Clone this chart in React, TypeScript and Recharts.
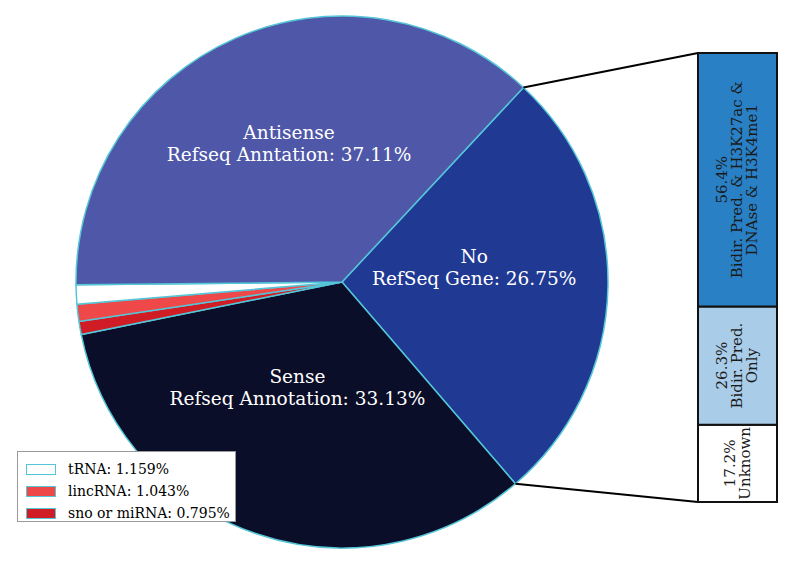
import React from "react";
import { PieChart, Pie, Cell, Legend, BarChart, Bar, XAxis, YAxis, LabelList } from "recharts";

// pie: share of transcripts by annotation class (clockwise from the break-out slice)
const classes = ["No RefSeq Gene", "Sense", "sno or miRNA", "lincRNA", "tRNA", "Antisense"];
const shares = [26.75, 33.13, 0.795, 1.043, 1.159, 37.11];
const sliceColors = ["#203a94", "#0b0e28", "#d01c24", "#ee4848", "#ffffff", "#4f58a8"];
const sliceLabels = [
  ["No", "RefSeq Gene: 26.75%"],
  ["Sense", "Refseq Annotation: 33.13%"],
  [],
  [],
  [],
  ["Antisense", "Refseq Anntation: 37.11%"],
];
const legendOrder = [4, 3, 2];

// break-out bar for the "No RefSeq Gene" slice (bottom to top)
const breakdownKeys = ["unknown", "predOnly", "allMarks"];
const breakdownValues = [17.2, 26.3, 56.4];
const breakdownColors = ["#ffffff", "#a9cde9", "#2a80c4"];
const breakdownLabels = [
  ["17.2%", "Unknown"],
  ["26.3%", "Bidir. Pred.", "Only"],
  ["56.4%", "Bidir. Pred. & H3K27ac &", "DNAse & H3K4me1"],
];

const W = 800;
const H = 564;
const CX = 342;
const CY = 282;
const R = 266;
const START = 47;
const BAR_LEFT = 698;
const BAR_RIGHT = 777;
const BAR_TOP = 53;
const BAR_BOTTOM = 502;
const EDGE = "#55c5d8";
const FONT = "DejaVu Serif";

const pieData = classes.map((name, i) => ({ name, value: shares[i] }));
const barData = [
  breakdownKeys.reduce((row: any, k, i) => ({ ...row, [k]: breakdownValues[i] }), { name: "No RefSeq Gene" }),
];

// label placement: [radius fraction, angle shift in degrees]
const labelPlace: Record<number, [number, number]> = { 0: [0.5, 7.6], 1: [0.43, -4], 5: [0.56, -3] };

const renderPieLabel = (props: any) => {
  const { cx, cy, midAngle, outerRadius, index } = props;
  const lines = sliceLabels[index];
  if (!lines || !lines.length) return null;
  const [f, shift] = labelPlace[index];
  const a = ((midAngle + shift) * Math.PI) / 180;
  const x = cx + outerRadius * f * Math.cos(a);
  const y = cy - outerRadius * f * Math.sin(a);
  const lh = 22;
  return (
    <text x={x} y={y} fill="#ffffff" fontFamily={FONT} fontSize={18.5} textAnchor="middle" dominantBaseline="central">
      {lines.map((l, i) => (
        <tspan key={i} x={x} dy={i === 0 ? -((lines.length - 1) * lh) / 2 : lh}>
          {l}
        </tspan>
      ))}
    </text>
  );
};

const renderLegend = () => (
  <div
    style={{
      border: "1px solid #999",
      background: "#fff",
      width: 219,
      height: 71,
      boxSizing: "border-box",
      padding: "6px 0 0 8px",
      fontFamily: FONT,
      fontSize: 14,
    }}
  >
    {legendOrder.map((i) => (
      <div key={i} style={{ display: "flex", alignItems: "center", height: 22 }}>
        <span
          style={{
            display: "inline-block",
            width: 28,
            height: 9,
            background: sliceColors[i],
            border: `1.5px solid ${EDGE}`,
            marginRight: 12,
          }}
        />
        <span>{`${classes[i]}: ${shares[i]}%`}</span>
      </div>
    ))}
  </div>
);

const makeBarLabel = (lines: string[]) => (props: any) => {
  const { x, y, width, height } = props;
  const cx = x + width / 2;
  const cy = y + height / 2;
  const lh = 15;
  return (
    <text
      x={cx}
      y={cy}
      fill="#1a1a1a"
      fontFamily={FONT}
      fontSize={15}
      textAnchor="middle"
      dominantBaseline="central"
      transform={`rotate(-90, ${cx}, ${cy})`}
    >
      {lines.map((l, i) => (
        <tspan key={i} x={cx} dy={i === 0 ? -((lines.length - 1) * lh) / 2 : lh}>
          {l}
        </tspan>
      ))}
    </text>
  );
};

const polar = (deg: number) => {
  const a = (deg * Math.PI) / 180;
  return [CX + R * Math.cos(a), CY - R * Math.sin(a)];
};

export default function App() {
  const [tx, ty] = polar(START);
  const [bx, by] = polar(START - shares[0] * 3.6);
  return (
    <div style={{ position: "absolute", left: 0, top: 0, width: W, height: H, background: "#fff" }}>
      <div style={{ position: "absolute", left: 0, top: 0 }}>
        <PieChart width={W} height={H} margin={{ top: 0, right: 0, bottom: 0, left: 0 }}>
          <Pie
            data={pieData}
            dataKey="value"
            nameKey="name"
            cx={CX}
            cy={CY}
            outerRadius={R}
            startAngle={START}
            endAngle={START - 360}
            label={renderPieLabel}
            labelLine={false}
            isAnimationActive={false}
          >
            {pieData.map((d, i) => (
              <Cell key={d.name} fill={sliceColors[i]} stroke={EDGE} strokeWidth={1.5} />
            ))}
          </Pie>
          <Legend
            content={renderLegend}
            wrapperStyle={{ position: "absolute", left: 17, top: 451, width: 219, height: 71, bottom: "auto" }}
          />
        </PieChart>
      </div>
      <svg style={{ position: "absolute", left: 0, top: 0 }} width={W} height={H}>
        <line x1={tx} y1={ty} x2={BAR_LEFT} y2={BAR_TOP} stroke="#000" strokeWidth={2} />
        <line x1={bx} y1={by} x2={BAR_LEFT} y2={BAR_BOTTOM} stroke="#000" strokeWidth={2} />
      </svg>
      <div style={{ position: "absolute", left: 0, top: 0 }}>
        <BarChart
          width={W}
          height={H}
          data={barData}
          barCategoryGap={0}
          margin={{ top: BAR_TOP, right: W - BAR_RIGHT, bottom: H - BAR_BOTTOM, left: BAR_LEFT }}
        >
          <XAxis dataKey="name" type="category" hide />
          <YAxis type="number" domain={[0, 99.9]} hide />
          {breakdownKeys.map((k, i) => (
            <Bar key={k} dataKey={k} stackId="s" fill={breakdownColors[i]} stroke="#111" strokeWidth={2} isAnimationActive={false}>
              <LabelList dataKey={k} content={makeBarLabel(breakdownLabels[i])} />
            </Bar>
          ))}
        </BarChart>
      </div>
    </div>
  );
}
